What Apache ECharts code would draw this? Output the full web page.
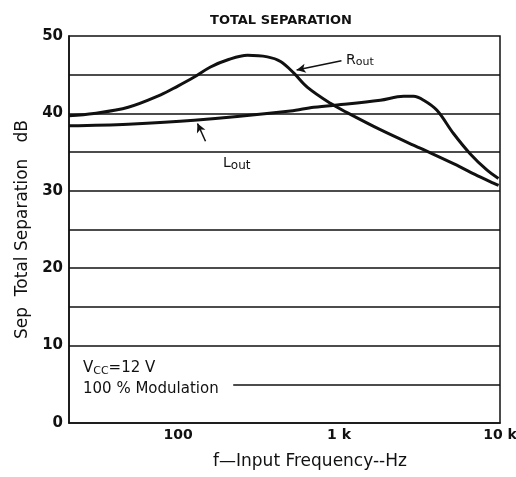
<!DOCTYPE html>
<html><head><meta charset="utf-8">
<script src="https://cdn.jsdelivr.net/npm/echarts@6/dist/echarts.min.js"></script>
<style>html,body{margin:0;padding:0;background:#fff}#c{width:516px;height:477px}</style>
</head><body><div id="c"></div>
<script>
const titleText = 'TOTAL SEPARATION';
const xName = 'f\u2014Input Frequency--Hz';
const yName = 'Sep  Total Separation   dB';
const rFreq = [21, 30, 49, 78, 99, 126, 159, 202, 270, 359, 433, 524, 634, 884, 1122, 1804, 3192, 5140, 7520, 9100, 9800];
const rSep  = [39.7, 40.0, 40.8, 42.4, 43.5, 44.7, 46.0, 46.9, 47.5, 47.3, 46.7, 45.2, 43.4, 41.3, 40.1, 37.9, 35.5, 33.5, 31.8, 31.0, 30.7];
const lFreq = [21, 49, 126, 499, 697, 1122, 1804, 2520, 2903, 3355, 4057, 5140, 6516, 8280, 9780];
const lSep  = [38.4, 38.6, 39.1, 40.3, 40.8, 41.2, 41.7, 42.2, 42.2, 41.7, 40.4, 37.4, 34.8, 32.7, 31.6];
const gridValues = [10, 15, 20, 25, 30, 35, 40, 45];
const partialGrid = {from: 220, to: 10000, value: 5};
const xTickLabels = {100: '100', 1000: '1 k', 10000: '10 k'};
const rArrow = [[1035, 46.8], [545, 45.6]];
const lArrow = [[148, 36.4], [132, 38.7]];

const FONT = 'DejaVu Sans';
const chart = echarts.init(document.getElementById('c'), null, {renderer: 'canvas'});
const gridMark = gridValues.map(v => ({yAxis: v}));
gridMark.push([{coord: [partialGrid.from, partialGrid.value]}, {coord: [partialGrid.to, partialGrid.value]}]);

chart.setOption({
  animation: false,
  backgroundColor: '#fff',
  title: {text: titleText, left: 276, top: 9, textAlign: 'center',
    textStyle: {fontFamily: FONT, fontSize: 13, fontWeight: 'bold', color: '#111'}},
  grid: {left: 69, right: 16, top: 36, bottom: 54, outerBoundsMode: 'none', containLabel: false,
    show: true, borderColor: '#111', borderWidth: 1.5, backgroundColor: 'transparent'},
  xAxis: {
    type: 'log', logBase: 10, min: 21, max: 10000,
    name: xName, nameLocation: 'middle', nameGap: 30,
    nameTextStyle: {fontFamily: FONT, fontSize: 17, color: '#111', padding: [0, 0, 0, 51]},
    axisLine: {lineStyle: {color: '#111', width: 1.5}},
    axisTick: {show: false},
    splitLine: {show: false},
    axisLabel: {fontFamily: FONT, fontSize: 14, fontWeight: 'bold', color: '#111', margin: 5, showMinLabel: true,
      formatter: v => xTickLabels[Math.round(v)] || ''}
  },
  yAxis: {
    type: 'value', min: 0, max: 50, interval: 10,
    name: yName, nameLocation: 'middle', nameGap: 33, nameRotate: 90,
    nameTextStyle: {fontFamily: FONT, fontSize: 17, color: '#111'},
    axisLine: {show: true, lineStyle: {color: '#111', width: 1.5}},
    axisTick: {show: false},
    splitLine: {show: false},
    axisLabel: {fontFamily: FONT, fontSize: 15, fontWeight: 'bold', color: '#111', margin: 6}
  },
  graphic: [
    {type: 'text', left: 83, top: 361, style: {
      text: 'V{s|CC}=12 V', font: '15px "' + FONT + '"', fill: '#111',
      rich: {s: {fontFamily: FONT, fontSize: 11, padding: [5, 0, 0, 0], fill: '#111'}}}},
    {type: 'text', left: 83, top: 382, style: {text: '100 % Modulation', font: '15px "' + FONT + '"', fill: '#111'}},
    {type: 'text', left: 346, top: 53, style: {
      text: 'R{s|out}', font: '14px "' + FONT + '"', fill: '#111',
      rich: {s: {fontFamily: FONT, fontSize: 11, padding: [5, 0, 0, 0], fill: '#111'}}}},
    {type: 'text', left: 223, top: 156, style: {
      text: 'L{s|out}', font: '14px "' + FONT + '"', fill: '#111',
      rich: {s: {fontFamily: FONT, fontSize: 12, padding: [5, 0, 0, 0], fill: '#111'}}}}
  ],
  series: [
    {type: 'line', name: 'Rout', data: rFreq.map((f, i) => [f, rSep[i]]), smooth: 0.35, symbol: 'none',
      lineStyle: {color: '#111', width: 3}, z: 3,
      markLine: {silent: true, symbol: 'none', label: {show: false}, animation: false,
        lineStyle: {color: '#111', width: 1.6, type: 'solid'}, data: gridMark}},
    {type: 'line', name: 'Lout', data: lFreq.map((f, i) => [f, lSep[i]]), smooth: 0.35, symbol: 'none',
      lineStyle: {color: '#111', width: 3}, z: 3,
      markLine: {silent: true, symbol: ['none', 'arrow'], symbolSize: [7, 9], label: {show: false}, animation: false,
        lineStyle: {color: '#111', width: 1.5, type: 'solid'},
        data: [[{coord: rArrow[0]}, {coord: rArrow[1]}], [{coord: lArrow[0]}, {coord: lArrow[1]}]]}}
  ]
});
</script></body></html>
